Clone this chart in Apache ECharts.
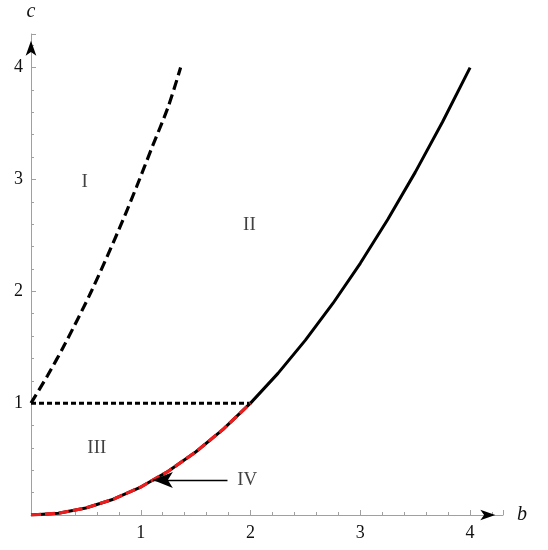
<!DOCTYPE html>
<html>
<head>
<meta charset="utf-8">
<script src="https://cdn.jsdelivr.net/npm/echarts@6/dist/echarts.min.js"></script>
<style>
  html, body { margin: 0; padding: 0; background: #fff; }
  #main { width: 548px; height: 550px; }
</style>
</head>
<body>
<div id="main"></div>
<script>
  // solid boundary c = b^2/4
  var solidB = [0, 0.25, 0.5, 0.75, 1, 1.25, 1.5, 1.75, 2, 2.25, 2.5, 2.75, 3, 3.25, 3.5, 3.75, 4];
  var solidC = [0, 0.016, 0.063, 0.141, 0.25, 0.391, 0.563, 0.766, 1, 1.266, 1.563, 1.891, 2.25, 2.641, 3.063, 3.516, 4];
  // red dashed piece, b from 0 to 2
  var redB = [0, 0.25, 0.5, 0.75, 1, 1.25, 1.5, 1.75, 2];
  var redC = [0, 0.016, 0.063, 0.141, 0.25, 0.391, 0.563, 0.766, 1];
  // long dashed curve starting at (0,1)
  var dashB = [0, 0.15, 0.31, 0.55, 0.8, 0.96, 1.1, 1.25, 1.363];
  var dashC = [1, 1.245, 1.53, 2.0, 2.55, 2.93, 3.28, 3.65, 4.0];
  // dotted horizontal c = 1
  var dotB = [0, 2];
  var dotC = [1, 1];
  // region labels
  var regionNames = ['I', 'II', 'III', 'IV'];
  var regionB = [0.49, 1.99, 0.6, 1.97];
  var regionC = [2.98, 2.59, 0.6, 0.31];
  var tickLabels = ['1', '2', '3', '4'];

  function zip(xs, ys) {
    return xs.map(function (x, i) { return [x, ys[i]]; });
  }

  var serif = '"Liberation Serif", "DejaVu Serif", serif';
  var axisGrey = '#a0a0a0';

  var chart = echarts.init(document.getElementById('main'));

  function axisCommon(name) {
    return {
      type: 'value',
      min: 0,
      max: 4.3,
      interval: 1,
      name: name,
      nameLocation: 'end',
      nameTextStyle: { fontFamily: serif, fontStyle: 'italic', fontSize: 20, color: '#111' },
      axisLine: { show: true, lineStyle: { color: axisGrey, width: 1 } },
      axisTick: { show: true, inside: true, length: 5, lineStyle: { color: axisGrey } },
      minorTick: { show: true, splitNumber: 5, length: 3, lineStyle: { color: axisGrey } },
      splitLine: { show: false },
      minorSplitLine: { show: false },
      axisLabel: {
        fontFamily: serif, fontSize: 18, color: '#111',
        showMinLabel: false, showMaxLabel: false,
        formatter: function (v) {
          var i = Math.round(v) - 1;
          return (v > 0 && tickLabels[i]) ? tickLabels[i] : '';
        }
      }
    };
  }

  var xAxis = axisCommon('b');
  xAxis.nameGap = 14;
  xAxis.axisLabel.margin = 9;
  var yAxis = axisCommon('c');
  yAxis.nameGap = 12;
  yAxis.axisLabel.margin = 8;

  chart.setOption({
    animation: false,
    grid: { left: 31, right: 45, top: 34, bottom: 35, containLabel: false },
    xAxis: xAxis,
    yAxis: yAxis,
    series: [
      {
        type: 'line',
        data: zip(solidB, solidC),
        showSymbol: false,
        lineStyle: { color: '#000', width: 3 },
        z: 2
      },
      {
        type: 'line',
        data: zip(redB, redC),
        showSymbol: false,
        lineStyle: { color: '#ee1c1c', width: 3.2, type: [10, 4] },
        z: 3
      },
      {
        type: 'line',
        data: zip(dashB, dashC),
        showSymbol: false,
        smooth: 0.3,
        lineStyle: { color: '#000', width: 3.2, type: [10, 5] },
        z: 2
      },
      {
        type: 'line',
        data: zip(dotB, dotC),
        showSymbol: false,
        lineStyle: { color: '#000', width: 3, type: [5, 3] },
        z: 2,
        markLine: {
          silent: true,
          animation: false,
          symbol: ['none', 'arrow'],
          symbolSize: [12, 20],
          label: { show: false },
          lineStyle: { color: '#000', width: 1.3, type: 'solid', opacity: 1 },
          data: [[{ coord: [1.79, 0.313] }, { coord: [1.11, 0.313] }]]
        }
      },
      {
        // axis arrow heads
        type: 'scatter',
        symbol: 'arrow',
        silent: true,
        data: [
          { value: [4.23, 0], symbolRotate: -90, symbolSize: [8, 15] },
          { value: [0, 4.24], symbolRotate: 0, symbolSize: [8, 15] }
        ],
        itemStyle: { color: '#000', opacity: 1 },
        clip: false,
        z: 5
      },
      {
        type: 'scatter',
        symbolSize: 0,
        silent: true,
        data: regionNames.map(function (n, i) {
          return { name: n, value: [regionB[i], regionC[i]] };
        }),
        label: {
          show: true,
          position: 'inside',
          formatter: '{b}',
          fontFamily: serif,
          fontSize: 19,
          color: '#111'
        }
      }
    ]
  });
</script>
</body>
</html>
